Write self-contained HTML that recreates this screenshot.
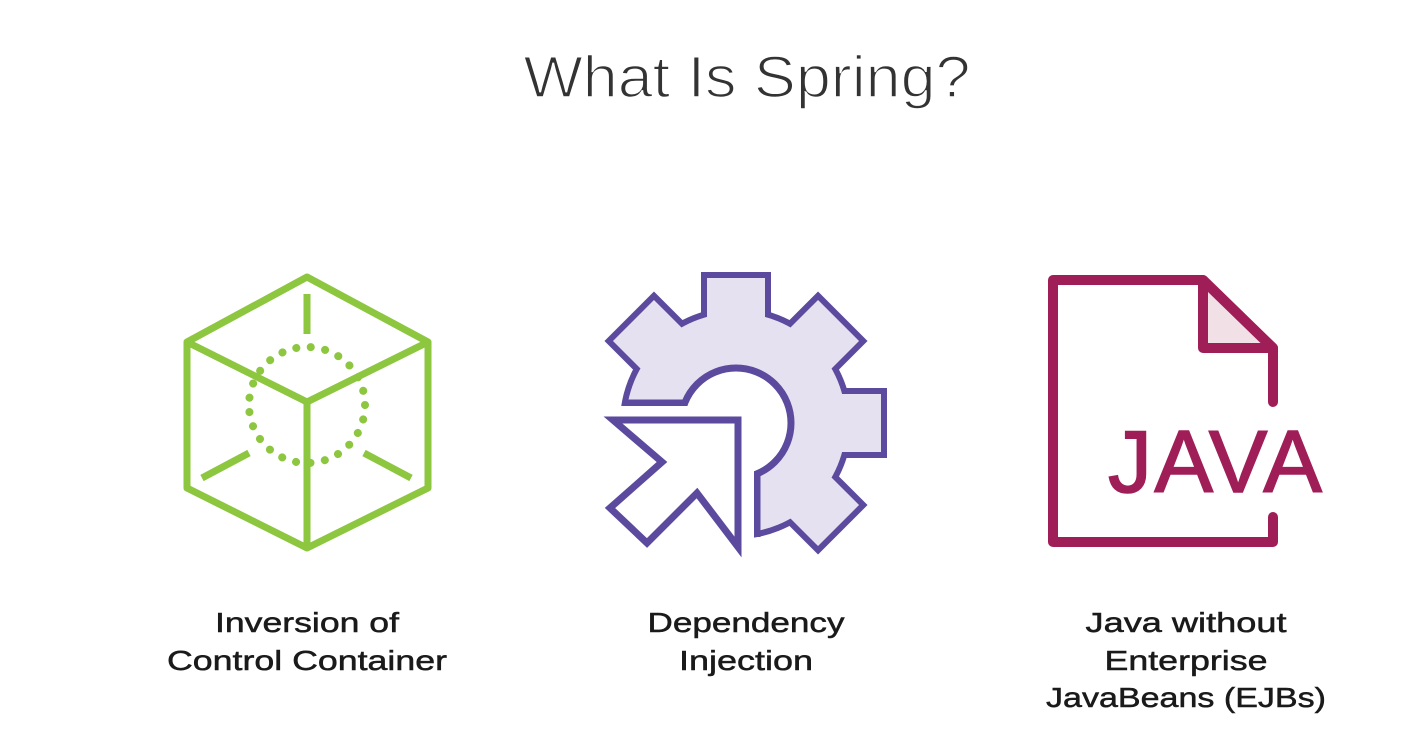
<!DOCTYPE html>
<html><head><meta charset="utf-8"><style>
html,body{margin:0;padding:0;background:#fff;}
svg{display:block;}
</style></head><body>
<svg width="1417" height="756" viewBox="0 0 1417 756" xmlns="http://www.w3.org/2000/svg">
<rect width="1417" height="756" fill="#fff"/>
<text x="747" y="97" text-anchor="middle" font-family="Liberation Sans, sans-serif" font-size="58" fill="#333" stroke="#fff" stroke-width="1.6" textLength="447" lengthAdjust="spacingAndGlyphs">What Is Spring?</text>

<!-- Cube -->
<g fill="none" stroke="#8dc63f" stroke-width="7" stroke-linejoin="round">
<polygon points="307,277 428,342 428,488 307,548 187,488 187,342"/>
<polyline points="187,342 307,402 428,342"/>
<line x1="307" y1="402" x2="307" y2="548"/>
<line x1="307" y1="294" x2="307" y2="334"/>
<line x1="202" y1="478" x2="249" y2="453"/>
<line x1="364" y1="453" x2="411" y2="478"/>
<circle cx="307" cy="405" r="58" stroke-width="8" stroke-dasharray="0.1 14.47" stroke-linecap="round"/>
</g>

<!-- Gear -->
<defs>
<clipPath id="gc"><polygon points="560,250 920,250 920,570 754,570 754,406 560,406"/></clipPath>
</defs>
<g clip-path="url(#gc)">
<g transform="translate(736,423)" fill="#5b4a9e" stroke="#5b4a9e" stroke-width="12" stroke-linejoin="miter">
<circle r="110"/>
<rect x="-29" y="-145" width="58" height="60"/>
<rect x="-29" y="-145" width="58" height="60" transform="rotate(45)"/>
<rect x="-29" y="-145" width="58" height="60" transform="rotate(90)"/>
<rect x="-29" y="-145" width="58" height="60" transform="rotate(135)"/>
<rect x="-29" y="-145" width="58" height="60" transform="rotate(315)"/>
</g>
<g transform="translate(736,423)" fill="#e6e1f0">
<circle r="110"/>
<rect x="-29" y="-145" width="58" height="60"/>
<rect x="-29" y="-145" width="58" height="60" transform="rotate(45)"/>
<rect x="-29" y="-145" width="58" height="60" transform="rotate(90)"/>
<rect x="-29" y="-145" width="58" height="60" transform="rotate(135)"/>
<rect x="-29" y="-145" width="58" height="60" transform="rotate(315)"/>
</g>
<circle cx="736" cy="423" r="55" fill="#fff" stroke="#5b4a9e" stroke-width="7"/>
<line x1="624" y1="403" x2="685" y2="403" stroke="#5b4a9e" stroke-width="7"/>
<line x1="757" y1="474" x2="757" y2="537" stroke="#5b4a9e" stroke-width="7"/>
</g>
<polygon points="613,420 738,420 738,547 697,493 647,543 610,508 662,462" fill="#fff" stroke="#5b4a9e" stroke-width="7" stroke-linejoin="miter"/>

<!-- Java doc -->
<g fill="none" stroke="#a01e58" stroke-width="10" stroke-linejoin="round" stroke-linecap="round">
<polygon points="1203,280 1273,348 1203,348" fill="#f1e1e7"/>
<polyline points="1273,402 1273,348 1203,280 1053,280 1053,542 1273,542 1273,517"/>
</g>
<text x="1108" y="492" font-family="Liberation Sans, sans-serif" font-size="88" fill="#a01e58" stroke="#a01e58" stroke-width="1.5" textLength="214" lengthAdjust="spacing">JAVA</text>

<!-- Labels -->
<g font-family="Liberation Sans, sans-serif" font-size="28" fill="#1a1a1a" text-anchor="middle" stroke="#1a1a1a" stroke-width="0.5">
<text x="307" y="632" textLength="184" lengthAdjust="spacingAndGlyphs">Inversion of</text>
<text x="307" y="670" textLength="280" lengthAdjust="spacingAndGlyphs">Control Container</text>
<text x="746" y="632" textLength="197" lengthAdjust="spacingAndGlyphs">Dependency</text>
<text x="746" y="670" textLength="134" lengthAdjust="spacingAndGlyphs">Injection</text>
<text x="1186" y="632" textLength="201" lengthAdjust="spacingAndGlyphs">Java without</text>
<text x="1186" y="670" textLength="163" lengthAdjust="spacingAndGlyphs">Enterprise</text>
<text x="1186" y="707" textLength="280" lengthAdjust="spacingAndGlyphs">JavaBeans (EJBs)</text>
</g>
</svg>
</body></html>
